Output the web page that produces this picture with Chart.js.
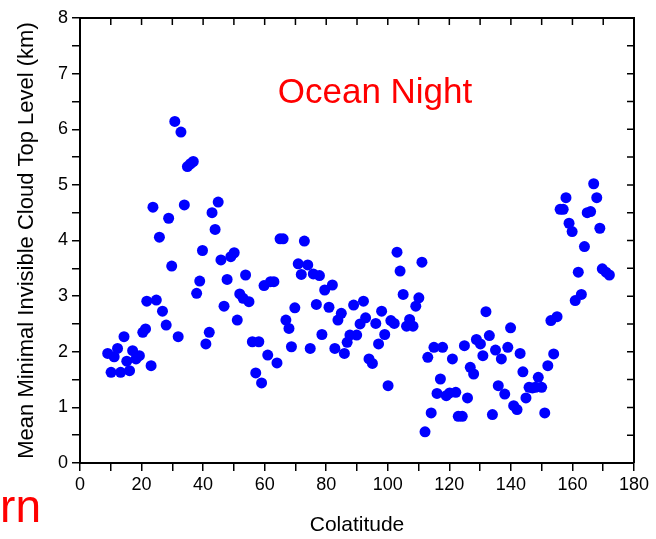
<!DOCTYPE html>
<html>
<head>
<meta charset="utf-8">
<script src="https://cdn.jsdelivr.net/npm/chart.js@4"></script>
<style>
  html, body { margin: 0; padding: 0; background: #fff; }
  #myChart { display: block; }
</style>
</head>
<body>
<canvas id="myChart" width="656" height="539"></canvas>
<script>
// colatitude (deg) and mean minimal invisible cloud top level (km)
var colatitude = [
  9.0, 10.1, 11.1, 12.2, 13.2, 14.3, 15.2, 16.1, 17.1, 18.2,
  19.3, 20.4, 21.3, 21.7, 23.1, 23.7, 24.8, 25.8, 26.8, 28.0,
  28.8, 29.8, 30.8, 31.9, 32.8, 33.9, 34.9, 35.9, 36.8, 37.9,
  38.9, 39.8, 40.9, 42.0, 42.9, 43.9, 44.9, 45.8, 46.8, 47.8,
  49.0, 50.1, 51.1, 51.9, 53.0, 53.8, 54.9, 56.0, 57.1, 58.1,
  59.0, 59.8, 61.0, 61.9, 63.0, 64.0, 65.0, 66.0, 66.9, 67.9,
  68.7, 69.8, 70.9, 71.9, 72.9, 74.0, 74.8, 75.8, 76.8, 77.8,
  78.6, 79.5, 80.9, 82.0, 82.8, 83.8, 84.9, 85.9, 86.8, 87.7,
  88.9, 89.9, 91.0, 92.1, 92.8, 93.9, 95.0, 96.1, 97.0, 98.0,
  99.0, 100.1, 101.0, 102.1, 103.0, 104.0, 105.0, 106.1, 107.1, 108.2,
  109.1, 110.1, 111.1, 112.1, 113.0, 114.1, 115.0, 116.0, 117.1, 117.8,
  119.0, 120.1, 121.0, 122.1, 122.9, 124.2, 124.9, 125.9, 126.8, 127.9,
  128.8, 130.1, 130.9, 131.9, 133.0, 134.0, 135.0, 135.9, 136.9, 138.0,
  139.0, 139.9, 140.9, 142.0, 143.0, 143.9, 144.9, 145.9, 147.0, 148.0,
  148.9, 150.0, 151.0, 152.0, 153.0, 153.9, 155.0, 156.0, 157.0, 157.9,
  158.9, 159.9, 160.9, 161.9, 162.9, 163.9, 164.8, 165.9, 166.9, 167.9,
  168.9, 169.7, 170.9, 172.0
];
var cloudTop = [
  1.97, 1.63, 1.91, 2.06, 1.63, 2.27, 1.83, 1.66, 2.02, 1.87,
  1.93, 2.35, 2.41, 2.91, 1.75, 4.60, 2.93, 4.06, 2.73, 2.48,
  4.40, 3.54, 6.14, 2.27, 5.95, 4.64, 5.33, 5.38, 5.42, 3.05,
  3.27, 3.82, 2.14, 2.35, 4.50, 4.20, 4.69, 3.65, 2.82, 3.30,
  3.71, 3.78, 2.57, 3.04, 2.96, 3.38, 2.90, 2.18, 1.62, 2.18,
  1.44, 3.19, 1.94, 3.26, 3.26, 1.80, 4.03, 4.03, 2.57, 2.42,
  2.09, 2.79, 3.58, 3.39, 3.99, 3.56, 2.06, 3.40, 2.85, 3.37,
  2.31, 3.11, 2.80, 3.20, 2.06, 2.57, 2.69, 1.97, 2.17, 2.30,
  2.84, 2.30, 2.50, 2.91, 2.61, 1.87, 1.79, 2.51, 2.14, 2.73,
  2.31, 1.39, 2.56, 2.51, 3.79, 3.45, 3.03, 2.46, 2.58, 2.46,
  2.82, 2.97, 3.61, 0.56, 1.90, 0.90, 2.08, 1.25, 1.51, 2.08,
  1.21, 1.26, 1.87, 1.27, 0.84, 0.84, 2.11, 1.17, 1.72, 1.60,
  2.22, 2.14, 1.93, 2.72, 2.29, 0.87, 2.03, 1.39, 1.87, 1.24,
  2.08, 2.43, 1.03, 0.96, 1.97, 1.64, 1.17, 1.36, 1.35, 1.36,
  1.54, 1.36, 0.90, 1.75, 2.56, 1.96, 2.63, 4.56, 4.56, 4.77,
  4.31, 4.16, 2.92, 3.43, 3.03, 3.89, 4.50, 4.52, 5.02, 4.77,
  4.22, 3.49, 3.43, 3.38
];

var xTitle = 'Colatitude';
var yTitle = 'Mean Minimal Invisible Cloud Top Level (km)';
var panelLabel = 'Ocean Night';
var cutLabel = 'rn';

var fontFamily = '"Liberation Sans", Arial, Helvetica, sans-serif';

var points = [];
for (var i = 0; i < colatitude.length; i++) {
  points.push({ x: colatitude[i], y: cloudTop[i] });
}

// box on top/right with inward ticks, plus the red labels
var framePlugin = {
  id: 'frame',
  afterDraw: function (chart) {
    var ctx = chart.ctx;
    var a = chart.chartArea;
    var xs = chart.scales.x;
    var ys = chart.scales.y;
    ctx.save();
    ctx.strokeStyle = '#000';
    ctx.lineWidth = 2;
    ctx.beginPath();
    ctx.moveTo(a.left, a.top);
    ctx.lineTo(a.right, a.top);
    ctx.lineTo(a.right, a.bottom);
    ctx.stroke();
    ctx.lineWidth = 1.5;
    ctx.beginPath();
    for (var v = 10; v < 180; v += 10) {
      var px = xs.getPixelForValue(v);
      ctx.moveTo(px, a.top);
      ctx.lineTo(px, a.top + 7);
    }
    for (var w = 0.5; w < 8; w += 0.5) {
      var py = ys.getPixelForValue(w);
      ctx.moveTo(a.right, py);
      ctx.lineTo(a.right - 7, py);
    }
    ctx.stroke();

    ctx.fillStyle = '#ff0000';
    ctx.textBaseline = 'alphabetic';
    ctx.font = '35px ' + fontFamily;
    ctx.textAlign = 'center';
    ctx.fillText(panelLabel, 375, 103);
    ctx.font = '46px ' + fontFamily;
    ctx.textAlign = 'right';
    ctx.fillText(cutLabel, 41, 522);
    ctx.restore();
  }
};

var ctx = document.getElementById('myChart').getContext('2d');
var chart = new Chart(ctx, {
  type: 'scatter',
  data: {
    datasets: [{
      label: panelLabel,
      data: points,
      backgroundColor: '#0000ff',
      borderWidth: 0,
      pointRadius: 5.5,
      pointHoverRadius: 5.5
    }]
  },
  options: {
    responsive: false,
    animation: false,
    events: [],
    layout: { padding: { top: 18, right: 22, left: 0, bottom: 0 } },
    plugins: {
      legend: { display: false },
      tooltip: { enabled: false }
    },
    scales: {
      x: {
        type: 'linear',
        min: 0,
        max: 180,
        afterFit: function (s) { s.height = 76; },
        border: { color: '#000', width: 2 },
        grid: { drawOnChartArea: false, drawTicks: true, tickLength: 8, color: '#000', lineWidth: 1.5 },
        ticks: {
          stepSize: 10,
          autoSkip: false,
          maxRotation: 0,
          padding: 3,
          color: '#000',
          font: { family: fontFamily, size: 18 },
          callback: function (v) { return v % 20 === 0 ? String(v) : ''; }
        },
        title: {
          display: true,
          text: xTitle,
          color: '#000',
          font: { family: fontFamily, size: 21 },
          padding: { top: 0, bottom: 1 }
        }
      },
      y: {
        type: 'linear',
        min: 0,
        max: 8,
        afterFit: function (s) { s.width = 80; },
        border: { color: '#000', width: 2 },
        grid: { drawOnChartArea: false, drawTicks: true, tickLength: 8, color: '#000', lineWidth: 1.5 },
        ticks: {
          stepSize: 0.5,
          autoSkip: false,
          padding: 4,
          color: '#000',
          font: { family: fontFamily, size: 18 },
          callback: function (v) { return Number.isInteger(v) ? String(v) : ''; }
        },
        title: {
          display: true,
          text: yTitle,
          color: '#000',
          font: { family: fontFamily, size: 22 },
          padding: { top: 14, bottom: 0 }
        }
      }
    }
  },
  plugins: [framePlugin]
});
</script>
</body>
</html>
